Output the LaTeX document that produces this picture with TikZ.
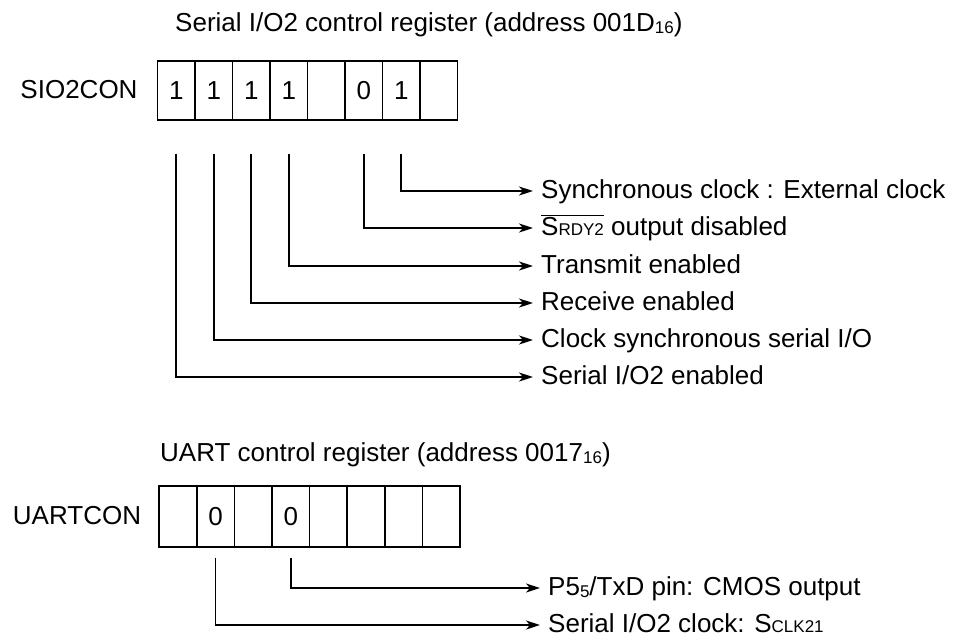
\documentclass[tikz,border=0pt]{standalone}
\usepackage{fontspec}
\setmainfont{Liberation Sans}
\usetikzlibrary{arrows.meta}
\newcommand\smallsub[1]{{\fontsize{17pt}{17pt}\selectfont #1}}
\newcommand\lowsub[1]{\raisebox{-2pt}{\fontsize{17pt}{17pt}\selectfont #1}}
\begin{document}
\begin{tikzpicture}[x=1pt,y=-1pt,
  every node/.style={font=\fontsize{26pt}{30pt}\selectfont},
  cell/.style={draw, line width=1.7pt, minimum width=37.5pt, minimum height=59pt, inner sep=0pt, anchor=north west},
  ucell/.style={cell, minimum width=37.6pt, minimum height=61pt},
  lab/.style={anchor=west, inner xsep=8pt, inner ysep=0pt, text height=19pt, text depth=5pt},
  title/.style={anchor=base west, inner sep=0pt},
  conn/.style={line width=1.7pt, -{Stealth[length=14pt,width=9pt,inset=4pt]}},
]
\useasboundingbox (0,0) rectangle (958,641);

% ---- SIO2CON ----
\node[title] (t1) at (175,31) {Serial I/O2 control register (address 001D\lowsub{16})};
\node (sio) at (79,90) {SIO2CON};
\foreach \v [count=\i] in {1,1,1,1,{},0,1,{}}
  \node[cell] (a\i) at ({156.7+37.5*(\i-1)},60) {\v};
\foreach \i in {1,2,3,4,6,7}
  \path (a\i.south) ++(0,33) coordinate (s\i);

\node[lab] (l7) at (533,191) {Synchronous clock : External clock};
\node[lab] (l6) at (533,228) {$\overline{\mbox{S\smallsub{RDY2}}}$ output disabled};
\node[lab] (l4) at (533,266) {Transmit enabled};
\node[lab] (l3) at (533,303) {Receive enabled};
\node[lab] (l2) at (533,340) {Clock synchronous serial I/O};
\node[lab] (l1) at (533,377) {Serial I/O2 enabled};
\foreach \i in {1,2,3,4,6,7}
  \draw[conn] (s\i) |- (l\i.west);

% ---- UARTCON ----
\node[title] (t2) at (160,461) {UART control register (address 0017\lowsub{16})};
\node (uart) at (77,516) {UARTCON};
\foreach \v [count=\i] in {{},0,{},0,{},{},{},{}}
  \node[ucell] (b\i) at ({158.3+37.6*(\i-1)},485) {\v};
\foreach \i in {2,4}
  \path (b\i.south) ++(0,10) coordinate (u\i);
\node[lab] (m4) at (540,588) {P5\lowsub{5}/TxD pin: CMOS output};
\node[lab] (m2) at (540,625) {Serial I/O2 clock: S\smallsub{CLK21}};
\foreach \i in {2,4}
  \draw[conn] (u\i) |- (m\i.west);
\end{tikzpicture}
\end{document}
